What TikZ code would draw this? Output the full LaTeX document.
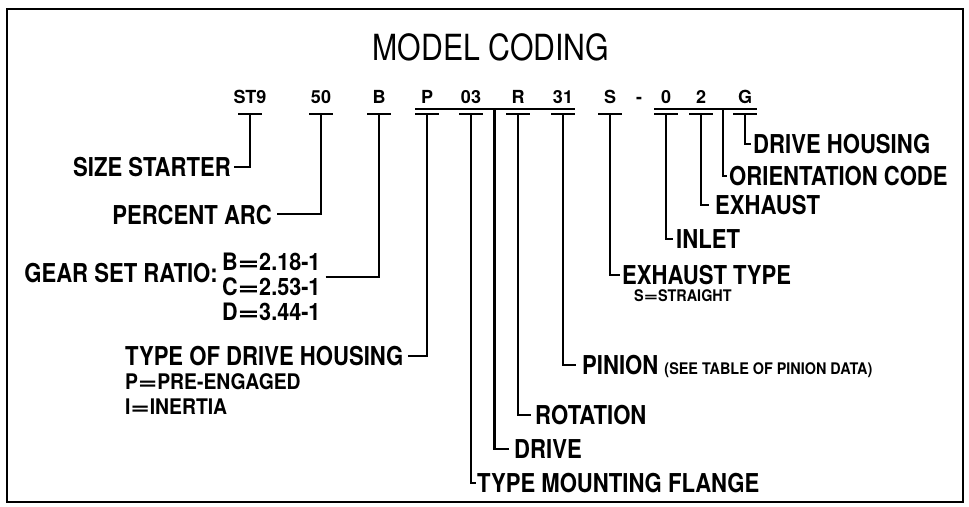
\documentclass[tikz,border=0pt]{standalone}
\usepackage{fontspec}
\setmainfont{TeX Gyre Heros}
\newfontfamily\condf[FakeStretch=0.85]{TeX Gyre Heros}
\newfontfamily\subf[FakeStretch=0.9]{TeX Gyre Heros}
\newfontfamily\titlef[FakeStretch=0.84]{TeX Gyre Heros}
\usetikzlibrary{calc}
\newcommand{\weq}{\scalebox{1.7}[1]{=}}
\begin{document}
\begin{tikzpicture}[x=1pt,y=-1pt,
  lab/.style={inner sep=0pt, font=\condf\bfseries\fontsize{26}{26}\selectfont, text height=18.6pt, text depth=0pt},
  sublab/.style={inner sep=0pt, font=\subf\bfseries\fontsize{21.5}{21.5}\selectfont, text height=15.4pt, text depth=0pt},
  ratio/.style={inner sep=0pt, font=\subf\bfseries\fontsize{24}{24}\selectfont, text height=17.2pt, text depth=0pt},
  tiny/.style={inner sep=0pt, font=\subf\bfseries\fontsize{16}{16}\selectfont, text height=11.5pt, text depth=0pt},
  code/.style={inner sep=0pt, font=\bfseries\fontsize{18}{18}\selectfont, text height=13pt, text depth=0pt},
  wire/.style={line width=2pt},
  thickwire/.style={line width=2.8pt},
  frame/.style={line width=2.6pt}]
\useasboundingbox (0,0) rectangle (969,506);
\draw[frame] (7,9) rectangle (963,502);
\node[inner sep=0pt, font=\titlef\fontsize{36}{36}\selectfont] (title) at (491,47) {MODEL CODING};
% code row
\node[code] (cST) at (250,97) {ST9};
\node[code] (c50) at (321,97) {50};
\node[code] (cB) at (379,97) {B};
\node[code] (cP) at (427,97) {P};
\node[code] (c03) at (471,97) {03};
\node[code] (cR) at (518,97) {R};
\node[code] (c31) at (563,97) {31};
\node[code] (cS) at (610,97) {S};
\node[code] (cdash) at (639,97) {-};
\node[code] (c0) at (666,97) {0};
\node[code] (c2) at (701,97) {2};
\node[code] (cG) at (745,97) {G};
\coordinate (bar) at (0,114);
\coordinate (lbar) at (0,108.5);
% short bars
\foreach \c in {cST,c50,cB,cP,c03,cR,c31,cS,c0,c2,cG}{
  \draw[wire] ($(\c |- bar)+(-12,0)$) -- ($(\c |- bar)+(12,0)$);
}
% long bars
\draw[wire] ($(cP |- lbar)+(-12,0)$) -- ($(c31 |- lbar)+(12,0)$);
\draw[wire] ($(c0 |- lbar)+(-12,0)$) -- ($(cG |- lbar)+(12,0)$);
\coordinate (mA) at ($(c03)!0.5!(cR)$);
\coordinate (mB) at ($(c2)!0.5!(cG)$);
% left labels
\node[lab, anchor=east] (lSize) at (231,167) {SIZE STARTER};
\node[lab, anchor=east] (lPct) at (272,215) {PERCENT ARC};
\node[lab, anchor=east] (lGear) at (218,273) {GEAR SET RATIO:};
\node[ratio, anchor=west] (lB) at (222,262) {B\weq2.18-1};
\node[ratio, anchor=west] (lC) at (222,287) {C\weq2.53-1};
\node[ratio, anchor=west] (lD) at (222,312) {D\weq3.44-1};
\node[lab, anchor=west] (lTDH) at (125,356) {TYPE OF DRIVE HOUSING};
\node[sublab, anchor=west] (lPE) at (125,382) {P\weq PRE-ENGAGED};
\node[sublab, anchor=west] (lIN) at (125,407) {I\weq INERTIA};
\draw[wire] ($(lSize.east)+(3,0)$) -| (cST |- bar);
\draw[wire] ($(lPct.east)+(5,-1)$) -| (c50 |- bar);
\draw[wire] ($(lB.east)+(5,15)$) -| (cB |- bar);
\draw[wire] ($(lTDH.east)+(5,0)$) -| (cP |- bar);
% right labels
\node[lab, anchor=west] (lDH) at (753,144) {DRIVE HOUSING};
\node[lab, anchor=west] (lOC) at (729,176) {ORIENTATION CODE};
\node[lab, anchor=west] (lEX) at (715,205) {EXHAUST};
\node[lab, anchor=west] (lIL) at (676,239) {INLET};
\node[lab, anchor=west] (lET) at (622,275) {EXHAUST TYPE};
\node[tiny, anchor=west] (lSS) at (634,296) {S\weq STRAIGHT};
\node[lab, anchor=west] (lPI) at (582,365) {PINION {\subf\fontsize{16}{16}\selectfont(SEE TABLE OF PINION DATA)}};
\node[lab, anchor=west] (lRO) at (535,415) {ROTATION};
\node[lab, anchor=west] (lDR) at (514,449) {DRIVE};
\node[lab, anchor=west] (lTM) at (477,483) {TYPE MOUNTING FLANGE};
\draw[wire] (cG |- bar) |- ($(lDH.west)+(-2,0)$);
\draw[thickwire] (mB |- lbar) |- ($(lOC.west)+(-2,0)$);
\draw[wire] (c2 |- bar) |- ($(lEX.west)+(-6,0)$);
\draw[wire] (c0 |- bar) |- ($(lIL.west)+(-3,0)$);
\draw[wire] (cS |- bar) |- ($(lET.west)+(-2,0)$);
\draw[wire] (c31 |- bar) |- ($(lPI.west)+(-6,0)$);
\draw[wire] (cR |- bar) |- ($(lRO.west)+(-4,0)$);
\draw[thickwire] (mA |- lbar) |- ($(lDR.west)+(-5,0)$);
\draw[wire] (c03 |- bar) |- ($(lTM.west)+(-1,0)$);
\end{tikzpicture}
\end{document}
